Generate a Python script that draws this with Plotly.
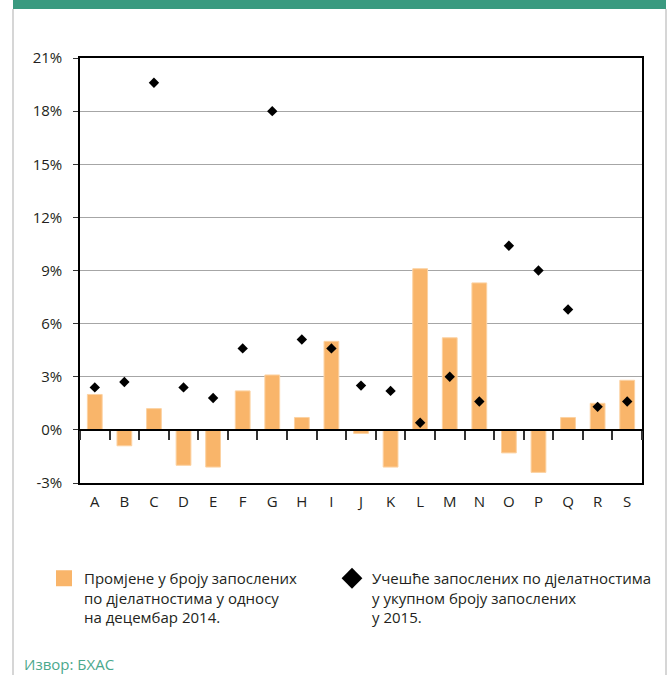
import plotly.graph_objects as go

# ---- data ----
categories = ["A", "B", "C", "D", "E", "F", "G", "H", "I", "J",
              "K", "L", "M", "N", "O", "P", "Q", "R", "S"]
change_vs_dec2014 = [2.0, -0.9, 1.2, -2.0, -2.1, 2.2, 3.1, 0.7, 5.0, -0.2,
                     -2.1, 9.1, 5.2, 8.3, -1.3, -2.4, 0.7, 1.5, 2.8]
share_2015 = [2.4, 2.7, 19.6, 2.4, 1.8, 4.6, 18.0, 5.1, 4.6, 2.5,
              2.2, 0.4, 3.0, 1.6, 10.4, 9.0, 6.8, 1.3, 1.6]
y_tick_values = [-3, 0, 3, 6, 9, 12, 15, 18, 21]
y_tick_labels = ["-3%", "0%", "3%", "6%", "9%", "12%", "15%", "18%", "21%"]
legend_bar = "Промјене у броју запослених<br>по дјелатностима у односу<br>на децембар 2014."
legend_dot = "Учешће запослених по дјелатностима<br>у укупном броју запослених<br>у 2015."
source_text = "Извор: БХАС"

# ---- style ----
W, H = 669, 675
ML, MR, MT, MB = 80, 27, 58, 192
PW, PH = W - ML - MR, H - MT - MB
ORANGE = "#F9B56A"
GREEN = "#3A9A80"
TXT = "#231F20"
FONT = "Open Sans, Noto Sans, sans-serif"

y_min, y_max = y_tick_values[0], y_tick_values[-1]
zero_pos = (0 - y_min) / (y_max - y_min)
n = len(categories)

def px_x(p):
    return (p - ML) / PW

def px_y(p):
    return 1 - (p - MT) / PH

fig = go.Figure()

fig.add_trace(go.Bar(
    x=categories, y=change_vs_dec2014,
    marker=dict(color=ORANGE, line=dict(color="#FCD2A2", width=1)),
    showlegend=False, hoverinfo="x+y",
))
fig.add_trace(go.Scatter(
    x=categories, y=share_2015, mode="markers",
    marker=dict(symbol="diamond", size=8, color="black"),
    showlegend=False, hoverinfo="x+y",
))
# invisible helper trace for the zero axis (ticks between categories)
fig.add_trace(go.Scatter(
    x=list(range(n)), y=change_vs_dec2014, xaxis="x2", mode="markers",
    marker=dict(opacity=0), showlegend=False, hoverinfo="skip",
))
# legend proxies
fig.add_trace(go.Scatter(
    x=[None], y=[None], mode="markers", name=legend_bar, legendwidth=243,
    marker=dict(symbol="square", size=16, color=ORANGE),
))
fig.add_trace(go.Scatter(
    x=[None], y=[None], mode="markers", name=legend_dot, legendwidth=292,
    marker=dict(symbol="diamond", size=16, color="black"),
))

fig.update_layout(
    width=W, height=H,
    margin=dict(l=ML, r=MR, t=MT, b=MB, autoexpand=False),
    paper_bgcolor="white", plot_bgcolor="white",
    font=dict(family=FONT, size=15, color=TXT),
    bargap=0.5,
    xaxis=dict(
        type="category", categoryorder="array", categoryarray=categories,
        range=[-0.5, n - 0.5],
        showline=True, linecolor="black", linewidth=1.5, mirror=True,
        ticks="", showgrid=False, zeroline=False,
        tickfont=dict(size=15, color=TXT), ticklabelstandoff=4,
    ),
    xaxis2=dict(
        overlaying="x", anchor="free", position=zero_pos, side="bottom",
        range=[-0.5, n - 0.5], showgrid=False, zeroline=False,
        showline=True, linecolor="black", linewidth=1.5,
        tickmode="array", tickvals=[i - 0.5 for i in range(n + 1)],
        ticks="outside", ticklen=9, tickwidth=1.5, tickcolor="#333333",
        showticklabels=False,
    ),
    yaxis=dict(
        range=[y_min, y_max],
        tickmode="array", tickvals=y_tick_values, ticktext=y_tick_labels,
        showline=True, linecolor="black", linewidth=1.5, mirror=True,
        ticks="outside", ticklen=5, tickwidth=1, tickcolor="#333333",
        showgrid=True, gridcolor="#A6A6A6", gridwidth=1,
        zeroline=False, tickfont=dict(size=15, color=TXT),
        ticklabelstandoff=8,
    ),
    legend=dict(
        orientation="h", xref="paper", yref="paper",
        x=px_x(44), y=px_y(562), xanchor="left", yanchor="top",
        valign="top",
        font=dict(size=15, color=TXT, family=FONT),
        bgcolor="rgba(0,0,0,0)", tracegroupgap=0,
    ),
    shapes=[
        dict(type="rect", xref="paper", yref="paper",
             x0=px_x(13), x1=px_x(666), y0=px_y(9), y1=px_y(0),
             fillcolor=GREEN, line=dict(width=0), layer="above"),
        dict(type="line", xref="paper", yref="paper",
             x0=px_x(13), x1=px_x(13), y0=px_y(9), y1=px_y(H),
             line=dict(color="#C8C8C8", width=1.5)),
        dict(type="line", xref="paper", yref="paper",
             x0=px_x(666), x1=px_x(666), y0=px_y(9), y1=px_y(H),
             line=dict(color="#C8C8C8", width=1.5)),
    ],
    annotations=[
        dict(text=source_text, xref="paper", yref="paper",
             x=px_x(22), y=px_y(664), xanchor="left", yanchor="middle",
             showarrow=False, font=dict(size=15, color="#4BA88C", family=FONT)),
    ],
)

fig.write_html("out.html")
